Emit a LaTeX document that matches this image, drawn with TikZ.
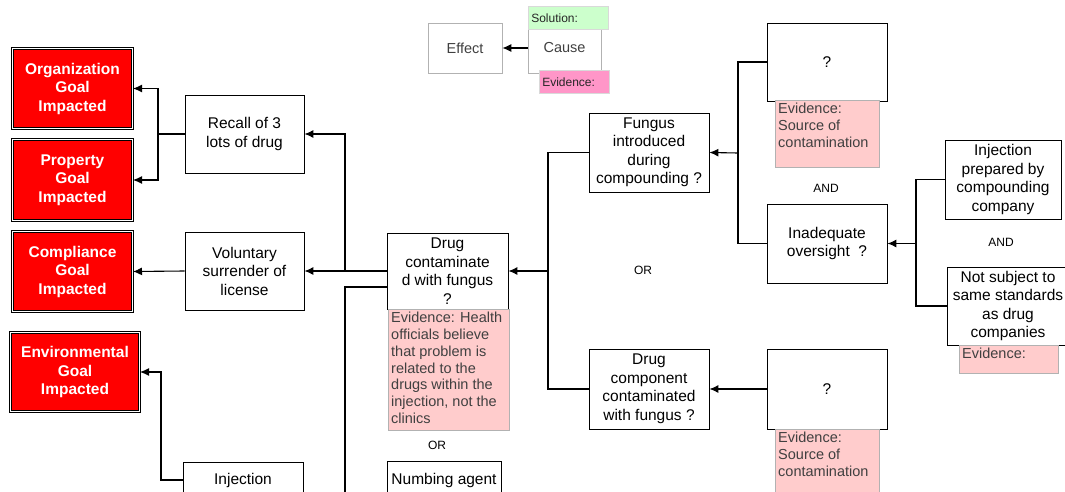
\documentclass[tikz,border=0pt]{standalone}
\usepackage{fontspec}
\setmainfont{Liberation Sans}
\usepackage{tikz}
\usetikzlibrary{arrows.meta,positioning}
\definecolor{legendpink}{RGB}{255,150,200}

\begin{document}
\begin{tikzpicture}[
x=1pt,y=-1pt,
MainBox/.style={draw=black,fill=white,line width=0.8pt,align=center,inner sep=1pt,
  font=\fontsize{15.5}{18.5}\selectfont},
GoalBox/.style={draw=black,double=white,double distance=1.2pt,line width=1pt,fill=red,
  text=white,align=center,font=\fontsize{15.5}{18.5}\selectfont\bfseries},
EvidenceBox/.style={draw=black!30,fill=red!20,line width=0.8pt},
EvidenceText/.style={text=black!75,align=left,inner sep=3pt,
  font=\fontsize{14.5}{16.8}\selectfont},
LegendBox/.style={draw=black!30,fill=white,line width=0.7pt,text=black!75,
  font=\fontsize{14.5}{17}\selectfont},
LegendTag/.style={draw=black!15,line width=0.5pt,text=black!85,inner sep=3pt,
  font=\fontsize{12}{14}\selectfont},
Joint/.style={font=\fontsize{12}{14}\selectfont},
Link/.style={draw=black,line width=1.1pt},
LinkArrow/.style={Link,-{Latex[length=9pt,width=8pt]}}
]
\useasboundingbox (0,0) rectangle (1065,492);
\clip (0,0) rectangle (1065,492);

% legend
\node[LegendBox,minimum width=74,minimum height=50] (effect) at (465,48) {Effect};
\node[LegendBox,minimum width=73,minimum height=50] (cause) at (564.5,48) {Cause};
\node[LegendTag,fill=green!20,minimum width=80,minimum height=23,anchor=north west,
  text width=74,align=left] (solution) at (528,6) {Solution:};
\node[LegendTag,fill=legendpink,minimum width=70,minimum height=23,anchor=north west,
  text width=64,align=left] (legev) at (539,70) {Evidence:};
\draw[LinkArrow] (cause) -- (effect);

% goals
\node[GoalBox,minimum width=120,minimum height=80] (org) at (72.5,88.5) {Organization\\Goal\\Impacted};
\node[GoalBox,minimum width=120,minimum height=81] (prop) at (72.5,180) {Property\\Goal\\Impacted};
\node[GoalBox,minimum width=120,minimum height=80] (compl) at (72.5,271.5) {Compliance\\Goal\\Impacted};
\node[GoalBox,minimum width=129,minimum height=79] (env) at (75,372) {Environmental\\Goal\\Impacted};

% effects
\node[MainBox,minimum width=119,minimum height=78] (recall) at (244.5,134) {Recall of 3\\lots of drug};
\node[MainBox,minimum width=119,minimum height=78] (vol) at (244.5,271) {Voluntary\\surrender of\\license};
\node[MainBox,minimum width=120,minimum height=36] (inj) at (243,480) {Injection};

\coordinate (jRecall) at (158,134);
\draw[LinkArrow] (recall.west) -- (jRecall) |- (org.east);
\draw[LinkArrow] (jRecall) |- (prop.east);
\draw[LinkArrow] (vol.west) -- (compl.east);
\coordinate (jEnv) at (161,480);
\draw[LinkArrow] (inj.west) -- (jEnv) |- (env.east);

% problem
\node[MainBox,minimum width=121,minimum height=76] (drug) at (447.5,271) {Drug\\contaminate\\d with fungus\\?};
\node[EvidenceBox,minimum width=121,minimum height=121,anchor=north west] (evDrug) at (388,309) {};
\node[EvidenceText,anchor=north west] (evDrugTxt) at (evDrug.north west)
  {Evidence: Health\\officials believe\\that problem is\\related to the\\drugs within the\\injection, not the\\clinics};
\node[Joint] (orLow) at (437,445) {OR};
\node[MainBox,minimum width=114,minimum height=38] (numb) at (444,480) {Numbing agent};

\coordinate (jDrug) at (345,271);
\draw[LinkArrow] (drug.west) -- (jDrug) |- (recall.east);
\draw[LinkArrow] (jDrug) -- (vol.east);
\coordinate (jDown) at (345,287);
\coordinate (jBottom) at (345,500);
\draw[Link] (drug.west |- jDown) -- (jDown) -- (jBottom);

% causes
\node[MainBox,minimum width=120,minimum height=79] (fungus) at (649,152.5) {Fungus\\introduced\\during\\compounding ?};
\node[MainBox,minimum width=120,minimum height=80] (drugcomp) at (649,389) {Drug\\component\\contaminated\\with fungus ?};
\node[Joint] (orMid) at (643,270) {OR};

\coordinate (jRight) at (548,271);
\draw[LinkArrow] (jRight) -- (drug.east);
\draw[Link] (fungus.west) -| (jRight);
\draw[Link] (drugcomp.west) -| (jRight);

\node[MainBox,minimum width=120,minimum height=78] (qTop) at (827,62) {?};
\node[EvidenceBox,minimum width=104,minimum height=67,anchor=north west] (evTop) at (775,100) {};
\node[EvidenceText,anchor=north west] (evTopTxt) at (evTop.north west) {Evidence:\\Source of\\contamination};
\node[Joint] (andMid) at (826,188) {AND};
\node[MainBox,minimum width=120,minimum height=79] (inad) at (827,243.5) {Inadequate\\oversight \ ?};

\coordinate (jFungus) at (738,153);
\draw[LinkArrow] (jFungus) -- (fungus.east);
\draw[Link] (qTop.west) -| (jFungus);
\draw[Link] (inad.west) -| (jFungus);

\node[MainBox,minimum width=116,minimum height=79] (injprep) at (1003,179.5) {Injection\\prepared by\\compounding\\company};
\node[Joint] (andRight) at (1001,242) {AND};
\node[MainBox,minimum width=122,minimum height=78] (notsub) at (1008,306) {Not subject to\\same standards\\as drug\\companies};
\node[EvidenceBox,minimum width=99,minimum height=28,anchor=north west] (evNot) at (959,345) {};
\node[EvidenceText,anchor=north west] (evNotTxt) at (evNot.north west) {Evidence:};

\coordinate (jInad) at (916,243.5);
\draw[LinkArrow] (jInad) -- (inad.east);
\draw[Link] (injprep.west) -| (jInad);
\draw[Link] (notsub.west) -| (jInad);

\node[MainBox,minimum width=120,minimum height=80] (qLow) at (827,389) {?};
\node[EvidenceBox,minimum width=104,minimum height=75,anchor=north west] (evLow) at (775,429) {};
\node[EvidenceText,anchor=north west] (evLowTxt) at (evLow.north west) {Evidence:\\Source of\\contamination};
\draw[LinkArrow] (qLow.west) -- (drugcomp.east);

\end{tikzpicture}
\end{document}
